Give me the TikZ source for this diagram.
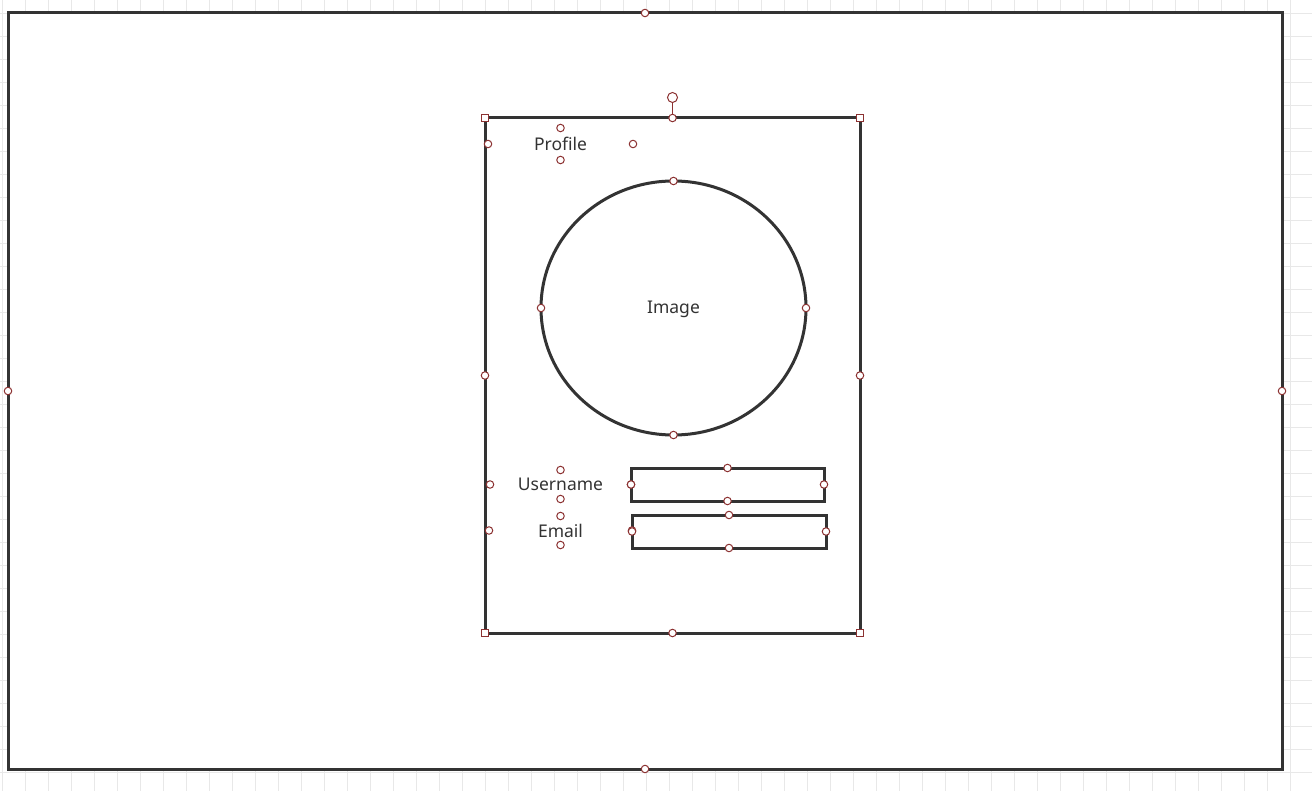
\documentclass[tikz,border=0pt]{standalone}
\usepackage{fontspec}
\setmainfont{Noto Sans}
\usetikzlibrary{calc,shapes.geometric,positioning}
\definecolor{linecol}{RGB}{51,51,51}
\definecolor{hdlcol}{RGB}{140,50,50}
\definecolor{gridcol}{RGB}{232,232,232}
\definecolor{txtcol}{RGB}{51,51,51}

\tikzset{
  frame/.style={draw=linecol, line width=3pt, fill=white, inner sep=0pt, outer sep=0pt},
  field/.style={draw=linecol, line width=3pt, inner sep=0pt, outer sep=0pt},
  lbl/.style={text=txtcol, font=\fontsize{17.5}{20}\selectfont, inner sep=0pt, outer sep=0pt},
  hdl/.style={circle, draw=hdlcol, fill=white, line width=1pt, minimum size=7.5pt, inner sep=0pt},
  corner/.style={rectangle, draw=hdlcol, fill=white, line width=1pt, minimum size=7.5pt, inner sep=0pt},
}

\begin{document}
\begin{tikzpicture}[x=1pt,y=-1pt]
  \useasboundingbox (0,0) rectangle (1312,791);
  \fill[white] (0,0) rectangle (1312,791);
  % background grid
  \foreach \i in {0,...,56}{
    \draw[gridcol, line width=0.8pt] (2.7+23*\i,0) -- (2.7+23*\i,791);
  }
  \foreach \j in {0,...,34}{
    \draw[gridcol, line width=0.8pt] (0,13+23*\j) -- (1312,13+23*\j);
  }
  % page and card
  \node[frame, minimum width=1274pt, minimum height=756pt] (page) at (645,391) {};
  \node[frame, minimum width=375pt, minimum height=515pt] (card) at (672.5,375.5) {};
  % image
  \node[ellipse, draw=linecol, line width=3pt, minimum width=265pt, minimum height=254pt, inner sep=0pt, outer sep=0pt] (img) at (673.5,308) {};
  \node[lbl] (imgtxt) at ($(img.center)+(0,1)$) {Image};
  % labels
  \node[lbl, minimum width=145pt, minimum height=32pt] (profile) at (560.5,144) {Profile};
  \node[lbl, minimum width=141pt, minimum height=29pt] (user) at (560.5,484.5) {Username};
  \node[lbl, minimum width=143pt, minimum height=29pt] (email) at (560.5,530.5) {Email};
  % input fields
  \node[field, minimum width=193pt, minimum height=33pt] (userbox) at (727.5,484.5) {};
  \node[field, minimum width=194pt, minimum height=33pt] (mailbox) at (729,531.5) {};
  % selection handles
  \node[hdl, minimum size=10pt, above=15pt of card.north] (rot) {};
  \draw[hdlcol, line width=1pt] (card.north) -- (rot);
  \foreach \a/\n in {north west/nw, north east/ne, south west/sw, south east/se}{
    \node[corner] (card-\n) at (card.\a) {};
  }
  \foreach \a in {north,south,east,west}{
    \node[hdl] (page-\a) at (page.\a) {};
    \node[hdl] (card-\a) at (card.\a) {};
    \node[hdl] (img-\a) at (img.\a) {};
    \node[hdl] (profile-\a) at (profile.\a) {};
    \node[hdl] (user-\a) at (user.\a) {};
    \node[hdl] (email-\a) at (email.\a) {};
    \node[hdl] (userbox-\a) at (userbox.\a) {};
    \node[hdl] (mailbox-\a) at (mailbox.\a) {};
  }
\end{tikzpicture}
\end{document}
